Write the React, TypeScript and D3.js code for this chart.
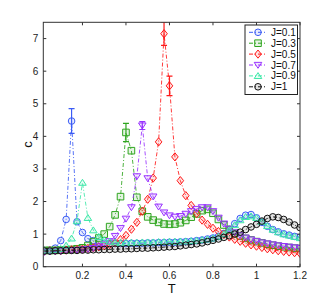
import React, {useRef, useEffect} from 'react';
import * as d3 from 'd3';

const W = 331;
const H = 301;
const M = {left: 43.3, right: 300, top: 22.3, bottom: 266.7};

// temperature grid
const T = [0.025,0.05,0.075,0.1,0.125,0.15,0.175,0.2,0.225,0.25,0.275,0.3,0.325,0.35,0.375,0.4,
  0.425,0.45,0.475,0.5,0.525,0.55,0.575,0.6,0.625,0.65,0.675,0.7,0.725,0.75,0.775,0.8,
  0.825,0.85,0.875,0.9,0.925,0.95,0.975,1.0,1.025,1.05,1.075,1.1,1.125,1.15,1.175,1.2];

const cJ01 = [0.5,0.51,0.57,0.8,1.45,4.47,1.38,1.05,0.86,0.8,0.75,0.72,0.71,0.71,0.71,0.71,
  0.72,0.72,0.72,0.73,0.73,0.74,0.74,0.75,0.75,0.76,0.77,0.78,0.8,0.82,0.85,0.88,
  0.93,1.02,1.15,1.32,1.48,1.58,1.6,1.5,1.36,1.24,1.14,1.07,1.01,0.97,0.93,0.9];
const cJ03 = [0.5,0.5,0.5,0.51,0.52,0.53,0.55,0.58,0.65,0.77,0.88,1.0,1.23,1.59,2.15,4.12,
  3.56,2.13,1.7,1.53,1.43,1.36,1.31,1.3,1.31,1.35,1.42,1.52,1.62,1.72,1.76,1.64,
  1.45,1.28,1.14,1.02,0.94,0.87,0.82,0.77,0.73,0.69,0.66,0.63,0.61,0.59,0.57,0.56];
const cJ05 = [0.48,0.49,0.5,0.5,0.51,0.52,0.53,0.54,0.56,0.58,0.61,0.64,0.68,0.74,0.83,0.96,
  1.15,1.36,1.7,2.07,2.72,3.83,7.15,5.55,3.37,2.64,2.18,1.88,1.63,1.43,1.3,1.18,
  1.08,0.99,0.91,0.84,0.78,0.72,0.67,0.63,0.59,0.55,0.52,0.49,0.47,0.45,0.43,0.41];
const cJ07 = [0.45,0.46,0.47,0.48,0.49,0.5,0.51,0.52,0.54,0.57,0.62,0.68,0.78,0.94,1.18,1.47,
  1.82,2.77,4.33,2.71,2.15,1.84,1.66,1.57,1.53,1.55,1.62,1.7,1.77,1.82,1.82,1.7,
  1.5,1.32,1.16,1.05,0.96,0.89,0.83,0.78,0.74,0.71,0.68,0.65,0.63,0.61,0.59,0.57];
const cJ09 = [0.5,0.5,0.52,0.55,0.65,0.87,1.4,2.58,1.5,1.12,0.92,0.82,0.77,0.75,0.74,0.74,
  0.74,0.74,0.75,0.75,0.75,0.76,0.76,0.77,0.77,0.78,0.78,0.79,0.8,0.82,0.84,0.87,
  0.92,1.0,1.12,1.28,1.43,1.53,1.55,1.5,1.38,1.25,1.14,1.06,1.0,0.96,0.92,0.88];
const cJ1 = [0.48,0.48,0.49,0.49,0.5,0.5,0.5,0.51,0.51,0.52,0.52,0.53,0.53,0.54,0.54,0.55,
  0.55,0.56,0.57,0.57,0.58,0.59,0.6,0.61,0.62,0.64,0.66,0.68,0.7,0.73,0.77,0.81,
  0.85,0.9,0.95,1.0,1.06,1.14,1.22,1.3,1.4,1.48,1.53,1.51,1.45,1.37,1.28,1.2];

// error bars [T, half-width]
const errJ01 = [[0.15, 0.38]];
const errJ03 = [[0.4, 0.28]];
const errJ05 = [[0.575, 0.36], [0.6, 0.3]];
const errJ07 = [[0.475, 0.12]];
const errJ09 = [];
const errJ1 = [];

const labels = ['J=0.1', 'J=0.3', 'J=0.5', 'J=0.7', 'J=0.9', 'J=1'];
const xTicks = [0.2, 0.4, 0.6, 0.8, 1, 1.2];
const yTicks = [0, 1, 2, 3, 4, 5, 6, 7];

const series = [
  {c: cJ01, err: errJ01, color: '#3b5cf5', marker: 'circle'},
  {c: cJ03, err: errJ03, color: '#2fa51f', marker: 'square'},
  {c: cJ05, err: errJ05, color: '#ff1a1a', marker: 'diamond'},
  {c: cJ07, err: errJ07, color: '#9933ff', marker: 'tridown'},
  {c: cJ09, err: errJ09, color: '#3de8a8', marker: 'triup'},
  {c: cJ1, err: errJ1, color: '#111111', marker: 'circle'},
];

function markerPath(kind, x, y) {
  const r = 3.3;
  if (kind === 'square') return `M${x-r},${y-r}h${2*r}v${2*r}h${-2*r}Z`;
  if (kind === 'diamond') return `M${x},${y-r-0.8}L${x+r},${y}L${x},${y+r+0.8}L${x-r},${y}Z`;
  if (kind === 'tridown') return `M${x-r-0.5},${y-r*0.8}L${x+r+0.5},${y-r*0.8}L${x},${y+r}Z`;
  if (kind === 'triup') return `M${x-r-0.5},${y+r*0.8}L${x+r+0.5},${y+r*0.8}L${x},${y-r}Z`;
  return `M${x-r},${y}a${r},${r} 0 1,0 ${2*r},0a${r},${r} 0 1,0 ${-2*r},0`;
}

function draw(node) {
  const svg = d3.select(node);
  svg.selectAll('*').remove();
  const font = '"Liberation Sans", Arial, sans-serif';

  const x = d3.scaleLinear().domain([0.02, 1.2]).range([M.left, M.right]);
  const y = d3.scaleLinear().domain([0, 7.5]).range([M.bottom, M.top]);

  svg.append('rect').attr('width', W).attr('height', H).attr('fill', '#fff');

  svg.append('defs').append('clipPath').attr('id', 'plot')
    .append('rect')
    .attr('x', M.left).attr('y', M.top)
    .attr('width', M.right - M.left).attr('height', M.bottom - M.top);

  const g = svg.append('g').attr('clip-path', 'url(#plot)');
  const line = d3.line().x((d, i) => x(T[i])).y(d => y(d));

  series.forEach(s => {
    const sg = g.append('g');
    sg.append('path')
      .attr('d', line(s.c))
      .attr('fill', 'none')
      .attr('stroke', s.color)
      .attr('stroke-width', 1)
      .attr('stroke-opacity', 0.85)
      .attr('stroke-dasharray', '4,2,1,2');
    s.err.forEach(([t, e]) => {
      const i = T.indexOf(t);
      const cx = x(t);
      const y0 = y(s.c[i] - e), y1 = y(s.c[i] + e);
      sg.append('path')
        .attr('d', `M${cx},${y0}V${y1}M${cx-3},${y0}h6M${cx-3},${y1}h6`)
        .attr('stroke', s.color).attr('stroke-width', 1.2).attr('fill', 'none');
    });
    sg.selectAll('path.mk')
      .data(s.c)
      .enter()
      .append('path')
      .attr('class', 'mk')
      .attr('d', (d, i) => markerPath(s.marker, x(T[i]), y(d)))
      .attr('fill', s.color)
      .attr('fill-opacity', 0.12)
      .attr('stroke', s.color)
      .attr('stroke-width', 1);
  });

  // axes box with inward ticks
  const ax = svg.append('g').attr('stroke', '#333').attr('stroke-width', 1);
  ax.append('rect')
    .attr('x', M.left).attr('y', M.top)
    .attr('width', M.right - M.left).attr('height', M.bottom - M.top)
    .attr('fill', 'none');
  xTicks.forEach(t => {
    ax.append('path').attr('d', `M${x(t)},${M.bottom}v-3M${x(t)},${M.top}v3`);
  });
  yTicks.forEach(t => {
    ax.append('path').attr('d', `M${M.left},${y(t)}h3M${M.right},${y(t)}h-3`);
  });

  svg.append('g').selectAll('text')
    .data(xTicks)
    .enter()
    .append('text')
    .text(d => d)
    .attr('x', d => x(d))
    .attr('y', M.bottom + 12)
    .attr('text-anchor', 'middle')
    .attr('font-family', font)
    .attr('font-size', 10)
    .attr('fill', '#222');

  svg.append('g').selectAll('text')
    .data(yTicks)
    .enter()
    .append('text')
    .text(d => d)
    .attr('x', M.left - 5)
    .attr('y', d => y(d) + 3.5)
    .attr('text-anchor', 'end')
    .attr('font-family', font)
    .attr('font-size', 10)
    .attr('fill', '#222');

  svg.append('text').text('T')
    .attr('x', (M.left + M.right) / 2).attr('y', M.bottom + 26)
    .attr('text-anchor', 'middle')
    .attr('font-family', font).attr('font-size', 13).attr('fill', '#111');
  svg.append('text').text('c')
    .attr('transform', `translate(32,${(M.top + M.bottom) / 2}) rotate(-90)`)
    .attr('text-anchor', 'middle')
    .attr('font-family', font).attr('font-size', 13).attr('fill', '#111');

  // legend
  const lg = svg.append('g');
  lg.append('rect')
    .attr('x', 245).attr('y', 25).attr('width', 52.5).attr('height', 69.5)
    .attr('fill', '#fff').attr('stroke', '#222').attr('stroke-width', 1);
  series.forEach((s, i) => {
    const ly = 32.3 + i * 10.9;
    lg.append('path')
      .attr('d', `M249,${ly}H267`)
      .attr('stroke', s.color).attr('stroke-width', 1)
      .attr('stroke-dasharray', '4,2,1,2');
    lg.append('path')
      .attr('d', markerPath(s.marker, 258, ly))
      .attr('fill', s.color).attr('fill-opacity', 0.12)
      .attr('stroke', s.color).attr('stroke-width', 1);
    lg.append('text').text(labels[i])
      .attr('x', 271).attr('y', ly + 3.5)
      .attr('font-family', font).attr('font-size', 10).attr('fill', '#111');
  });
}

export default function App() {
  const ref = useRef(null);
  useEffect(() => {
    draw(ref.current);
  }, []);
  return (
    <svg ref={ref} width={W} height={H}
      style={{position: 'absolute', left: 0, top: 0}} />
  );
}
